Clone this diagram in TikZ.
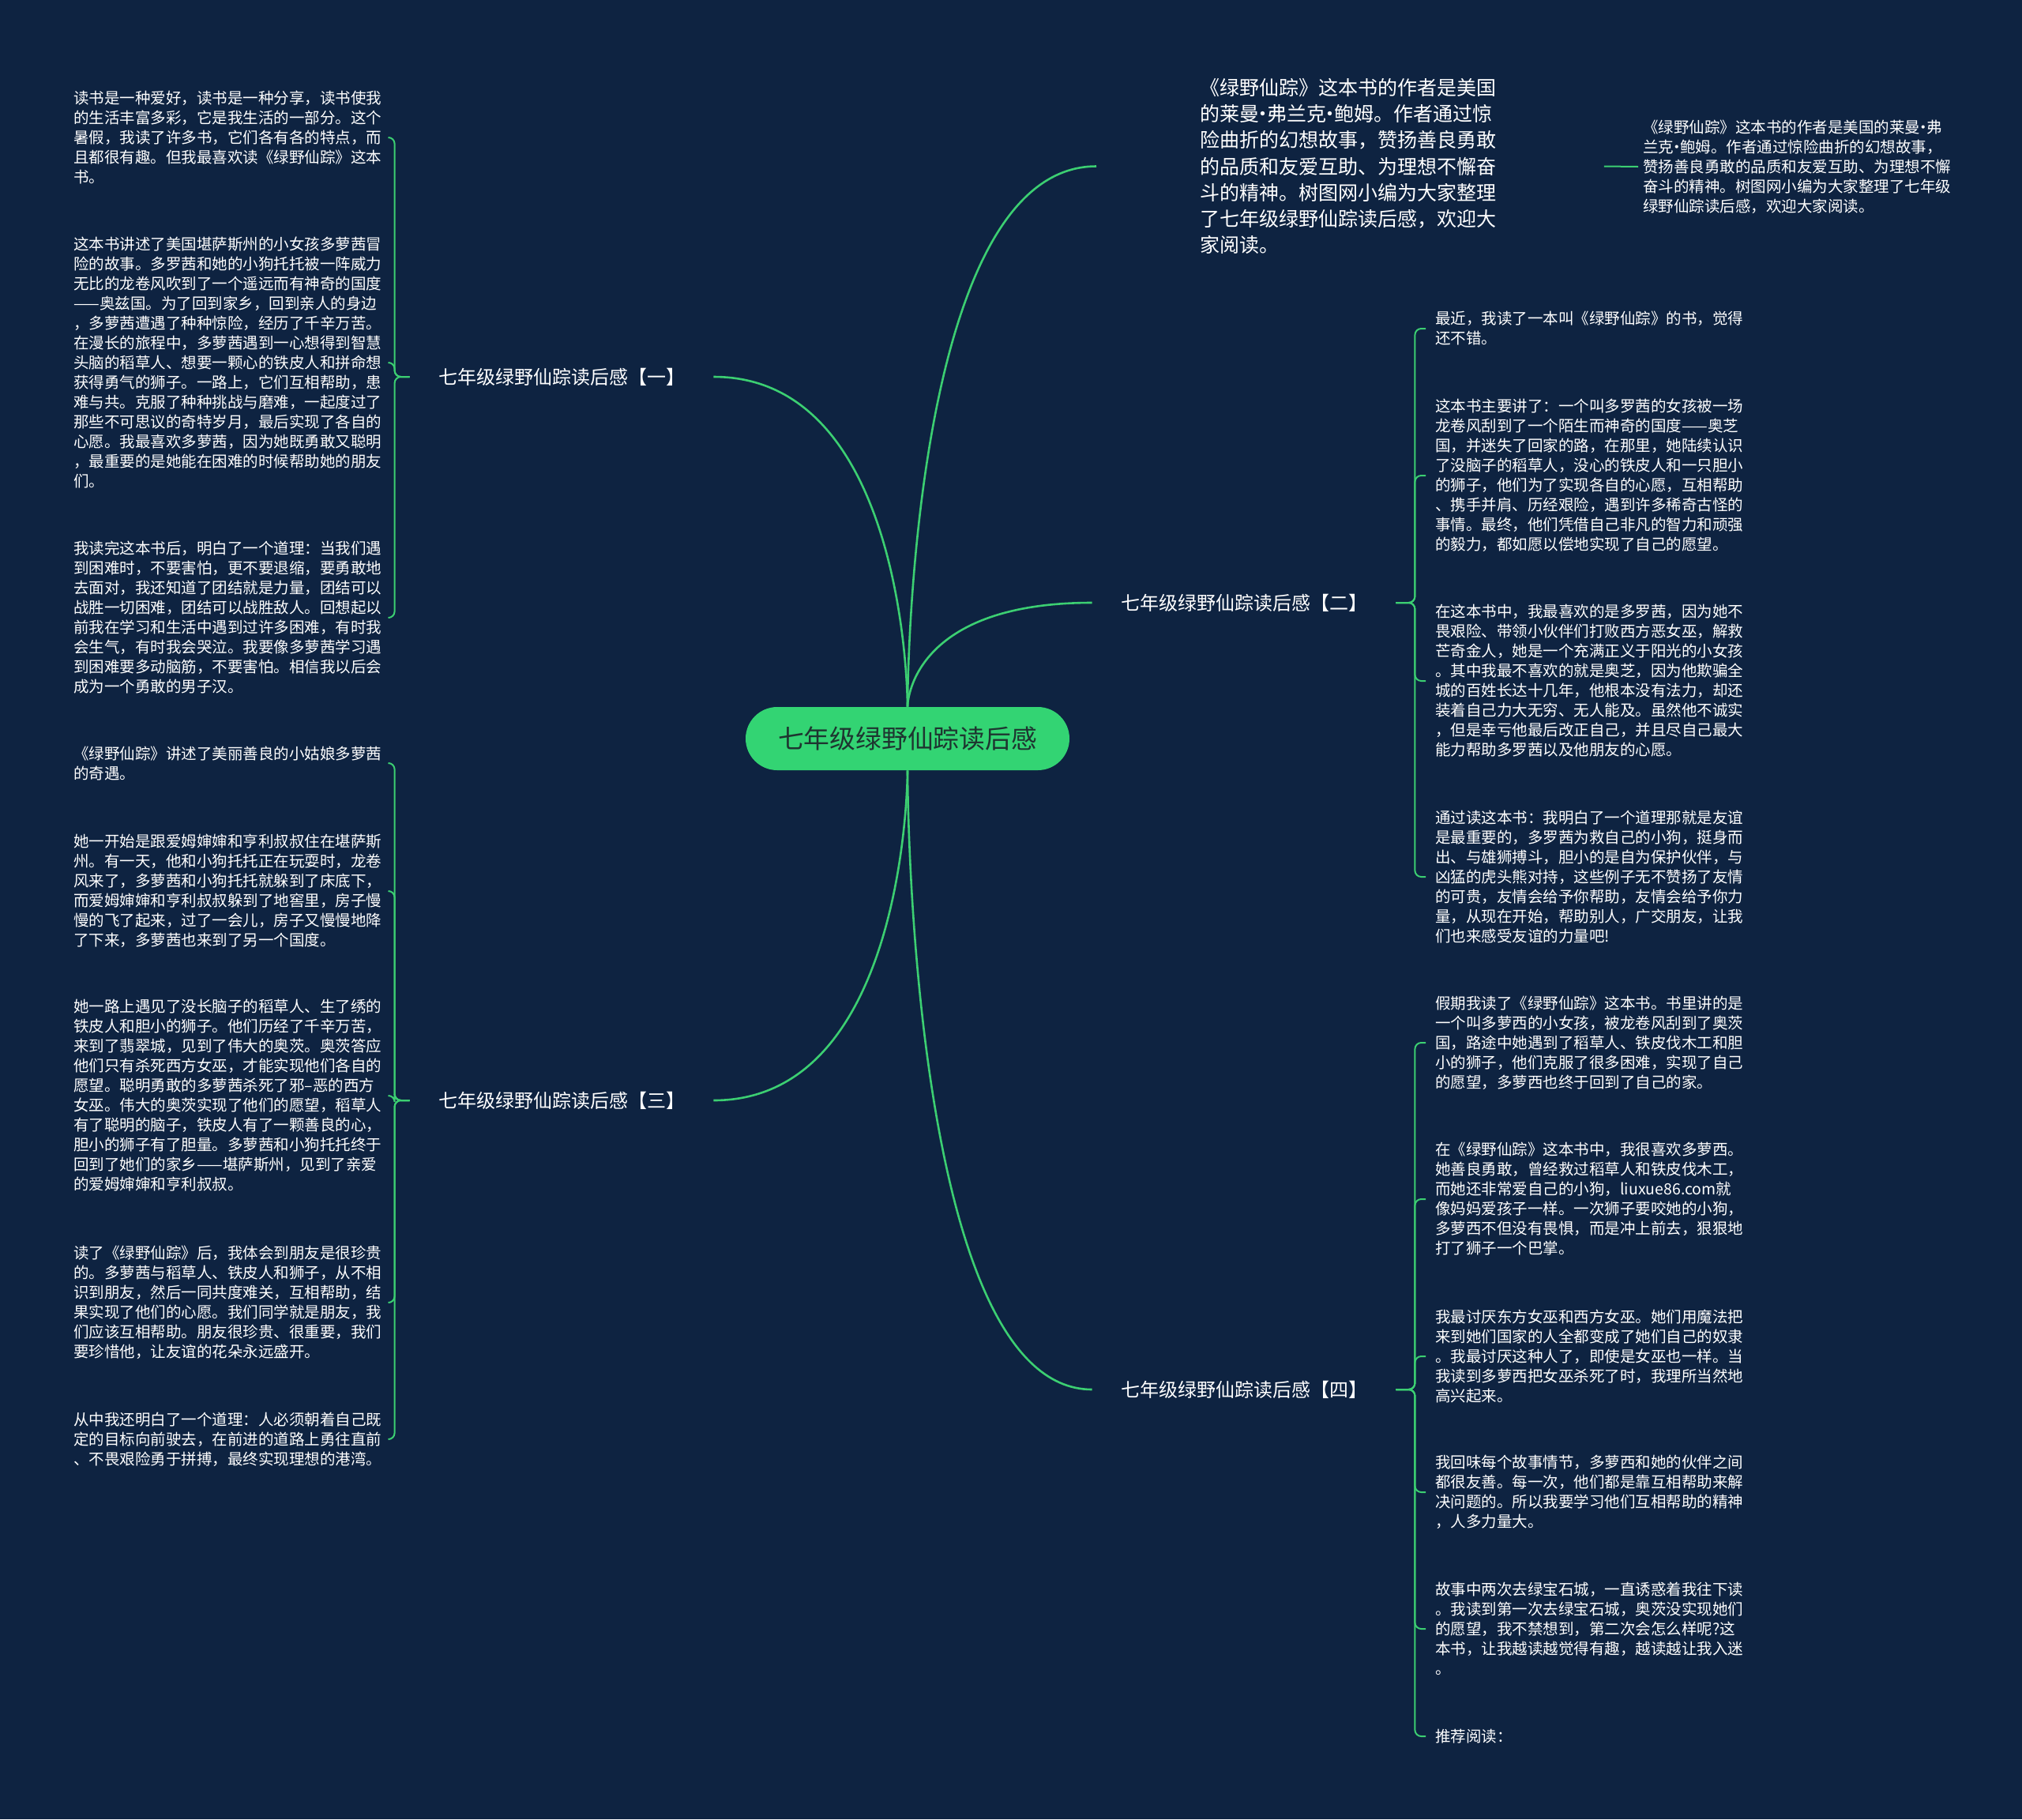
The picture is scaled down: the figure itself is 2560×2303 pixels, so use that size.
\documentclass[tikz,border=0pt]{standalone}
\usepackage{fontspec}
\newfontfamily\cjk{Noto Sans CJK SC}
\newcommand\mdot{\makebox[0.4em][c]{·}}
\definecolor{bgc}{HTML}{0E2341}
\definecolor{lineg}{HTML}{3CCF72}
\definecolor{rootfill}{HTML}{33D473}
\definecolor{roottext}{HTML}{1E3530}
\pgfdeclarelayer{back}
\pgfdeclarelayer{mid}
\pgfsetlayers{back,mid,main}
\tikzset{
  txt/.style={font=\cjk\fontsize{9.75pt}{12.5pt}\selectfont, text=white, align=left, text width=196pt, inner ysep=0pt, anchor=west},
  lefttxt/.style={txt, inner xsep=3pt},
  righttxt/.style={txt, inner xsep=6pt},
  branch/.style={font=\cjk\fontsize{12pt}{14pt}\selectfont, text=white, inner xsep=18pt, inner ysep=4pt},
  rootnode/.style={font=\cjk\fontsize{16.4pt}{18pt}\selectfont, text=roottext, fill=rootfill, rounded corners=20pt, minimum width=205pt, minimum height=40pt, inner sep=0pt},
  intro/.style={font=\cjk\fontsize{12.5pt}{16.65pt}\selectfont, text=white, align=left, text width=190pt, inner xsep=65.5pt, inner ysep=0pt, anchor=west},
  curve/.style={draw=lineg, line width=1.3pt},
  brk/.style={draw=lineg, line width=1pt, rounded corners=4pt},
}
\begin{document}
\begin{tikzpicture}[x=0.5pt,y=-0.5pt]
\begin{pgfonlayer}{back}
\fill[bgc] (0,0) rectangle (2560,2303);
\end{pgfonlayer}
\useasboundingbox (0,0) rectangle (2560,2303);

% root
\node[rootnode] (C) at (1149,935) {七年级绿野仙踪读后感};

% branches
\node[branch] (B1) at (711,477) {七年级绿野仙踪读后感【一】};
\node[branch] (B2) at (1575,763) {七年级绿野仙踪读后感【二】};
\node[branch] (B3) at (711,1393) {七年级绿野仙踪读后感【三】};
\node[branch] (B4) at (1575,1759) {七年级绿野仙踪读后感【四】};

% intro
\node[intro] (I) at (1388,210.5) {《绿野仙踪》这本书的作者是美国\\的莱曼\mdot 弗兰克\mdot 鲍姆。作者通过惊\\险曲折的幻想故事，赞扬善良勇敢\\的品质和友爱互助、为理想不懈奋\\斗的精神。树图网小编为大家整理\\了七年级绿野仙踪读后感，欢迎大\\家阅读。};
\node[lefttxt] (I1) at (2074,211) {《绿野仙踪》这本书的作者是美国的莱曼\mdot 弗\\兰克\mdot 鲍姆。作者通过惊险曲折的幻想故事，\\赞扬善良勇敢的品质和友爱互助、为理想不懈\\奋斗的精神。树图网小编为大家整理了七年级\\绿野仙踪读后感，欢迎大家阅读。};

% left children of B1
\node[lefttxt] (L1) at (87,174) {读书是一种爱好，读书是一种分享，读书使我\\的生活丰富多彩，它是我生活的一部分。这个\\暑假，我读了许多书，它们各有各的特点，而\\且都很有趣。但我最喜欢读《绿野仙踪》这本\\书。};
\node[lefttxt] (L2) at (87,459) {这本书讲述了美国堪萨斯州的小女孩多萝茜冒\\险的故事。多罗茜和她的小狗托托被一阵威力\\无比的龙卷风吹到了一个遥远而有神奇的国度\\——奥兹国。为了回到家乡，回到亲人的身边\\，多萝茜遭遇了种种惊险，经历了千辛万苦。\\在漫长的旅程中，多萝茜遇到一心想得到智慧\\头脑的稻草人、想要一颗心的铁皮人和拼命想\\获得勇气的狮子。一路上，它们互相帮助，患\\难与共。克服了种种挑战与磨难，一起度过了\\那些不可思议的奇特岁月，最后实现了各自的\\心愿。我最喜欢多萝茜，因为她既勇敢又聪明\\，最重要的是她能在困难的时候帮助她的朋友\\们。};
\node[lefttxt] (L3) at (87,782) {我读完这本书后，明白了一个道理：当我们遇\\到困难时，不要害怕，更不要退缩，要勇敢地\\去面对，我还知道了团结就是力量，团结可以\\战胜一切困难，团结可以战胜敌人。回想起以\\前我在学习和生活中遇到过许多困难，有时我\\会生气，有时我会哭泣。我要像多萝茜学习遇\\到困难要多动脑筋，不要害怕。相信我以后会\\成为一个勇敢的男子汉。};

% left children of B3
\node[lefttxt] (L4) at (87,966) {《绿野仙踪》讲述了美丽善良的小姑娘多萝茜\\的奇遇。};
\node[lefttxt] (L5) at (87,1128) {她一开始是跟爱姆婶婶和亨利叔叔住在堪萨斯\\州。有一天，他和小狗托托正在玩耍时，龙卷\\风来了，多萝茜和小狗托托就躲到了床底下，\\而爱姆婶婶和亨利叔叔躲到了地窖里，房子慢\\慢的飞了起来，过了一会儿，房子又慢慢地降\\了下来，多萝茜也来到了另一个国度。};
\node[lefttxt] (L6) at (87,1387) {她一路上遇见了没长脑子的稻草人、生了绣的\\铁皮人和胆小的狮子。他们历经了千辛万苦，\\来到了翡翠城，见到了伟大的奥茨。奥茨答应\\他们只有杀死西方女巫，才能实现他们各自的\\愿望。聪明勇敢的多萝茜杀死了邪–恶的西方\\女巫。伟大的奥茨实现了他们的愿望，稻草人\\有了聪明的脑子，铁皮人有了一颗善良的心，\\胆小的狮子有了胆量。多萝茜和小狗托托终于\\回到了她们的家乡——堪萨斯州，见到了亲爱\\的爱姆婶婶和亨利叔叔。};
\node[lefttxt] (L7) at (87,1649) {读了《绿野仙踪》后，我体会到朋友是很珍贵\\的。多萝茜与稻草人、铁皮人和狮子，从不相\\识到朋友，然后一同共度难关，互相帮助，结\\果实现了他们的心愿。我们同学就是朋友，我\\们应该互相帮助。朋友很珍贵、很重要，我们\\要珍惜他，让友谊的花朵永远盛开。};
\node[lefttxt] (L8) at (87,1822) {从中我还明白了一个道理：人必须朝着自己既\\定的目标向前驶去，在前进的道路上勇往直前\\、不畏艰险勇于拼搏，最终实现理想的港湾。};

% right children of B2
\node[righttxt] (R1) at (1805,416) {最近，我读了一本叫《绿野仙踪》的书，觉得\\还不错。};
\node[righttxt] (R2) at (1805,602) {这本书主要讲了：一个叫多罗茜的女孩被一场\\龙卷风刮到了一个陌生而神奇的国度——奥芝\\国，并迷失了回家的路，在那里，她陆续认识\\了没脑子的稻草人，没心的铁皮人和一只胆小\\的狮子，他们为了实现各自的心愿，互相帮助\\、携手并肩、历经艰险，遇到许多稀奇古怪的\\事情。最终，他们凭借自己非凡的智力和顽强\\的毅力，都如愿以偿地实现了自己的愿望。};
\node[righttxt] (R3) at (1805,862) {在这本书中，我最喜欢的是多罗茜，因为她不\\畏艰险、带领小伙伴们打败西方恶女巫，解救\\芒奇金人，她是一个充满正义于阳光的小女孩\\。其中我最不喜欢的就是奥芝，因为他欺骗全\\城的百姓长达十几年，他根本没有法力，却还\\装着自己力大无穷、无人能及。虽然他不诚实\\，但是幸亏他最后改正自己，并且尽自己最大\\能力帮助多罗茜以及他朋友的心愿。};
\node[righttxt] (R4) at (1805,1110) {通过读这本书：我明白了一个道理那就是友谊\\是最重要的，多罗茜为救自己的小狗，挺身而\\出、与雄狮搏斗，胆小的是自为保护伙伴，与\\凶猛的虎头熊对持，这些例子无不赞扬了友情\\的可贵，友情会给予你帮助，友情会给予你力\\量，从现在开始，帮助别人，广交朋友，让我\\们也来感受友谊的力量吧!};

% right children of B4
\node[righttxt] (R5) at (1805,1320) {假期我读了《绿野仙踪》这本书。书里讲的是\\一个叫多萝西的小女孩，被龙卷风刮到了奥茨\\国，路途中她遇到了稻草人、铁皮伐木工和胆\\小的狮子，他们克服了很多困难，实现了自己\\的愿望，多萝西也终于回到了自己的家。};
\node[righttxt] (R6) at (1805,1518) {在《绿野仙踪》这本书中，我很喜欢多萝西。\\她善良勇敢，曾经救过稻草人和铁皮伐木工，\\而她还非常爱自己的小狗，liuxue86.com就\\像妈妈爱孩子一样。一次狮子要咬她的小狗，\\多萝西不但没有畏惧，而是冲上前去，狠狠地\\打了狮子一个巴掌。};
\node[righttxt] (R7) at (1805,1717) {我最讨厌东方女巫和西方女巫。她们用魔法把\\来到她们国家的人全都变成了她们自己的奴隶\\。我最讨厌这种人了，即使是女巫也一样。当\\我读到多萝西把女巫杀死了时，我理所当然地\\高兴起来。};
\node[righttxt] (R8) at (1805,1889) {我回味每个故事情节，多萝西和她的伙伴之间\\都很友善。每一次，他们都是靠互相帮助来解\\决问题的。所以我要学习他们互相帮助的精神\\，人多力量大。};
\node[righttxt] (R9) at (1805,2062) {故事中两次去绿宝石城，一直诱惑着我往下读\\。我读到第一次去绿宝石城，奥茨没实现她们\\的愿望，我不禁想到，第二次会怎么样呢?这\\本书，让我越读越觉得有趣，越读越让我入迷\\。};
\node[righttxt] (R10) at (1805,2198) {推荐阅读：};

\begin{pgfonlayer}{mid}
% main curves
\draw[curve] (C.north) .. controls (C.north) and (C.north |- I.west) .. (I.west);
\draw[curve] (C.north) .. controls (C.north) and (C.north |- B1.east) .. (B1.east);
\draw[curve] (C.north) .. controls (C.north) and (C.north |- B2.west) .. (B2.west);
\draw[curve] (C.south) .. controls (C.south) and (C.south |- B3.east) .. (B3.east);
\draw[curve] (C.south) .. controls (C.south) and (C.south |- B4.west) .. (B4.west);
% intro to detail
\draw[brk] (I.east) -- (I1.west);
% brackets left
\foreach \c in {L1,L2,L3} {\draw[brk] (B1.west) -- ++(-9.5pt,0) |- (\c.east);}
\foreach \c in {L4,L5,L6,L7,L8} {\draw[brk] (B3.west) -- ++(-9.5pt,0) |- (\c.east);}
% brackets right
\foreach \c in {R1,R2,R3,R4} {\draw[brk] (B2.east) -- ++(12pt,0) |- (\c.west);}
\foreach \c in {R5,R6,R7,R8,R9,R10} {\draw[brk] (B4.east) -- ++(12pt,0) |- (\c.west);}
\end{pgfonlayer}
\end{tikzpicture}
\end{document}
